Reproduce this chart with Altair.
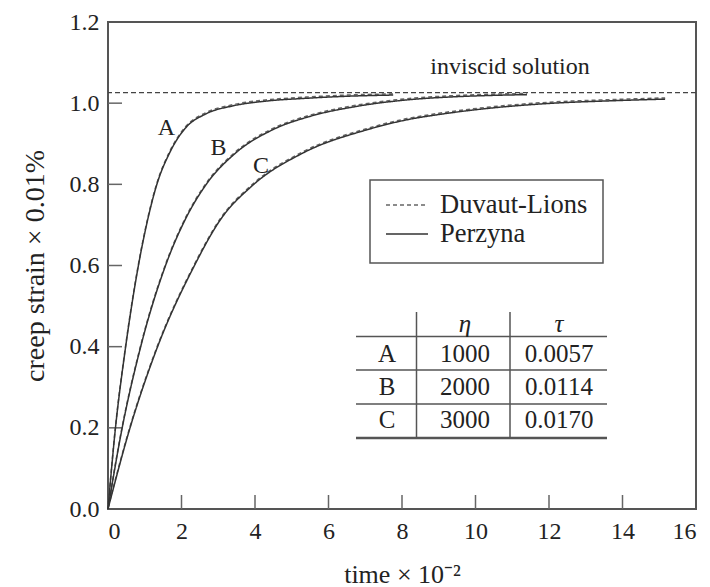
import altair as alt
import pandas as pd

# Creep strain histories: time (x 10^-2) against creep strain (x 0.01%)
curve_a_time = [0, 0.20, 0.47, 0.82, 1.08, 1.32, 1.69, 2.10, 2.65, 3.38, 4.29, 5.39, 6.50, 7.76]
curve_a_strain = [0, 0.197, 0.393, 0.596, 0.713, 0.797, 0.880, 0.938, 0.973, 0.993, 1.005, 1.012, 1.017, 1.020]

curve_b_time = [0, 0.38, 0.87, 1.55, 2.10, 2.65, 3.47, 4.47, 5.48, 6.76, 8.13, 9.50, 10.40, 11.40]
curve_b_strain = [0, 0.197, 0.393, 0.596, 0.713, 0.797, 0.877, 0.934, 0.967, 0.992, 1.008, 1.016, 1.019, 1.021]

curve_c_time = [0, 0.59, 1.32, 2.33, 3.06, 3.93, 5.30, 7.03, 8.13, 9.00, 10.12, 11.94, 13.75, 15.16]
curve_c_strain = [0, 0.197, 0.393, 0.596, 0.713, 0.797, 0.877, 0.934, 0.959, 0.972, 0.985, 0.999, 1.006, 1.010]

inviscid_strain = 1.026

models = ["Duvaut-Lions", "Perzyna"]
curve_names = ["A", "B", "C"]
curve_label_time = [1.59, 3.01, 4.16]
curve_label_strain = [0.940, 0.890, 0.845]

# Viscosity table
table_header = ["\u03b7", "\u03c4"]
table_eta = ["1000", "2000", "3000"]
table_tau = ["0.0057", "0.0114", "0.0170"]

x_ticks = [0, 2, 4, 6, 8, 10, 12, 14, 16]
y_ticks = [0.0, 0.2, 0.4, 0.6, 0.8, 1.0, 1.2]

FONT = "Liberation Serif"
INK = "#222222"
W, H = 588, 487

series = {"A": (curve_a_time, curve_a_strain),
          "B": (curve_b_time, curve_b_strain),
          "C": (curve_c_time, curve_c_strain)}

records = []
for model in models:
    for name in curve_names:
        ts, vs = series[name]
        for t, v in zip(ts, vs):
            records.append({"model": model, "curve": name, "time": t, "strain": v})
curves = pd.DataFrame(records)

x_scale = alt.Scale(domain=[0, 16], nice=False)
y_scale = alt.Scale(domain=[0, 1.2], nice=False)

x_enc = alt.X("time:Q", scale=x_scale,
              axis=alt.Axis(values=x_ticks, title="time \u00d7 10\u207b\u00b2", format="d",
                            titleFontSize=26))
y_enc = alt.Y("strain:Q", scale=y_scale,
              axis=alt.Axis(values=y_ticks, title="creep strain \u00d7 0.01%", format=".1f",
                            titleFontSize=28))

dash_enc = alt.StrokeDash("model:N",
                          scale=alt.Scale(domain=models, range=[[4, 3], [1, 0]]),
                          legend=alt.Legend(title=None))
color_enc = alt.Color("model:N",
                      scale=alt.Scale(domain=models, range=["#666666", "#333333"]),
                      legend=alt.Legend(title=None))

base = alt.Chart(curves).encode(x=x_enc, y=y_enc, detail="curve:N",
                                strokeDash=dash_enc, color=color_enc)

dl_lines = base.transform_filter(alt.datum.model == "Duvaut-Lions").mark_line(
    interpolate="monotone", strokeWidth=1.5, yOffset=-1.2)
pz_lines = base.transform_filter(alt.datum.model == "Perzyna").mark_line(
    interpolate="monotone", strokeWidth=1.5)

inviscid = alt.Chart(pd.DataFrame({"strain": [inviscid_strain]})).mark_rule(
    color="#444444", strokeWidth=1.4, strokeDash=[5, 3]).encode(y=alt.Y("strain:Q", scale=y_scale))

inviscid_text = alt.Chart(pd.DataFrame({"time": [10.94], "strain": [1.089], "label": ["inviscid solution"]})).mark_text(
    font=FONT, fontSize=24, color=INK).encode(x="time:Q", y="strain:Q", text="label:N")

curve_labels = alt.Chart(pd.DataFrame({"time": curve_label_time, "strain": curve_label_strain,
                                       "label": curve_names})).mark_text(
    font=FONT, fontSize=24, color=INK).encode(x="time:Q", y="strain:Q", text="label:N")

# Inward tick marks
x_tick_rules = alt.Chart(pd.DataFrame({"time": x_ticks[1:-1]})).mark_rule(
    color="#666666", strokeWidth=1.5).encode(x="time:Q", y=alt.value(H), y2=alt.value(H - 14))
y_tick_rules = alt.Chart(pd.DataFrame({"strain": y_ticks[1:-1]})).mark_rule(
    color="#666666", strokeWidth=1.5).encode(y="strain:Q", x=alt.value(0), x2=alt.value(14))

# Table layout (pixels within the plot area)
col_x = [279, 357, 451]
row_y = [301.6, 332, 365, 398]

head_cells = pd.DataFrame({"px": col_x[1:], "py": [row_y[0]] * 2, "txt": table_header})
body = []
for r, name in enumerate(curve_names):
    for c, txt in enumerate([name, table_eta[r], table_tau[r]]):
        body.append({"px": col_x[c], "py": row_y[r + 1], "txt": txt})
body_cells = pd.DataFrame(body)


def cell_layer(df, style):
    return alt.Chart(df).mark_text(font=FONT, fontSize=25, color=INK, baseline="middle",
                                   fontStyle=style).encode(
        x=alt.X("px:Q", scale=None, axis=None),
        y=alt.Y("py:Q", scale=None, axis=None),
        text="txt:N")


table_head = cell_layer(head_cells, "italic")
table_body = cell_layer(body_cells, "normal")

h_rules = pd.DataFrame({"x1": [248, 248, 248], "x2": [499, 499, 499], "yy": [314.5, 348, 382]})
table_h = alt.Chart(h_rules).mark_rule(color="#555555", strokeWidth=1.5).encode(
    x=alt.X("x1:Q", scale=None, axis=None), x2="x2:Q",
    y=alt.Y("yy:Q", scale=None, axis=None))
table_bottom = alt.Chart(pd.DataFrame({"x1": [248], "x2": [499], "yy": [416]})).mark_rule(
    color="#555555", strokeWidth=2.6).encode(
    x=alt.X("x1:Q", scale=None, axis=None), x2="x2:Q",
    y=alt.Y("yy:Q", scale=None, axis=None))
v_rules = pd.DataFrame({"xx": [308.5, 402], "y1": [290, 290], "y2": [416, 416]})
table_v = alt.Chart(v_rules).mark_rule(color="#555555", strokeWidth=1.5).encode(
    x=alt.X("xx:Q", scale=None, axis=None),
    y=alt.Y("y1:Q", scale=None, axis=None), y2="y2:Q")

chart = alt.layer(
    inviscid, x_tick_rules, y_tick_rules, dl_lines, pz_lines,
    inviscid_text, curve_labels, table_h, table_bottom, table_v, table_head, table_body
).properties(
    width=W, height=H,
    autosize=alt.AutoSizeParams(type="none"),
    padding={"left": 108, "top": 22, "right": 14, "bottom": 78},
    background="white",
).configure_view(
    stroke="#555555", strokeWidth=2
).configure_axis(
    grid=False, ticks=False, domain=False,
    labelFont=FONT, labelFontSize=24, labelColor=INK,
    titleFont=FONT, titleColor=INK, titleFontWeight="normal",
).configure_axisX(
    labelPadding=10, titlePadding=18
).configure_axisY(
    labelPadding=9, titlePadding=20
).configure_legend(
    orient="none", legendX=262, legendY=158,
    strokeColor="#555555", strokeWidth=1.5, fillColor="white", padding=15,
    symbolType="stroke", symbolSize=1764, symbolStrokeWidth=1.5, clipHeight=20,
    labelFont=FONT, labelFontSize=26.5, labelColor=INK, labelOffset=11, rowPadding=2,
)

chart.save("out.html", embed_options={"renderer": "svg", "actions": False})
